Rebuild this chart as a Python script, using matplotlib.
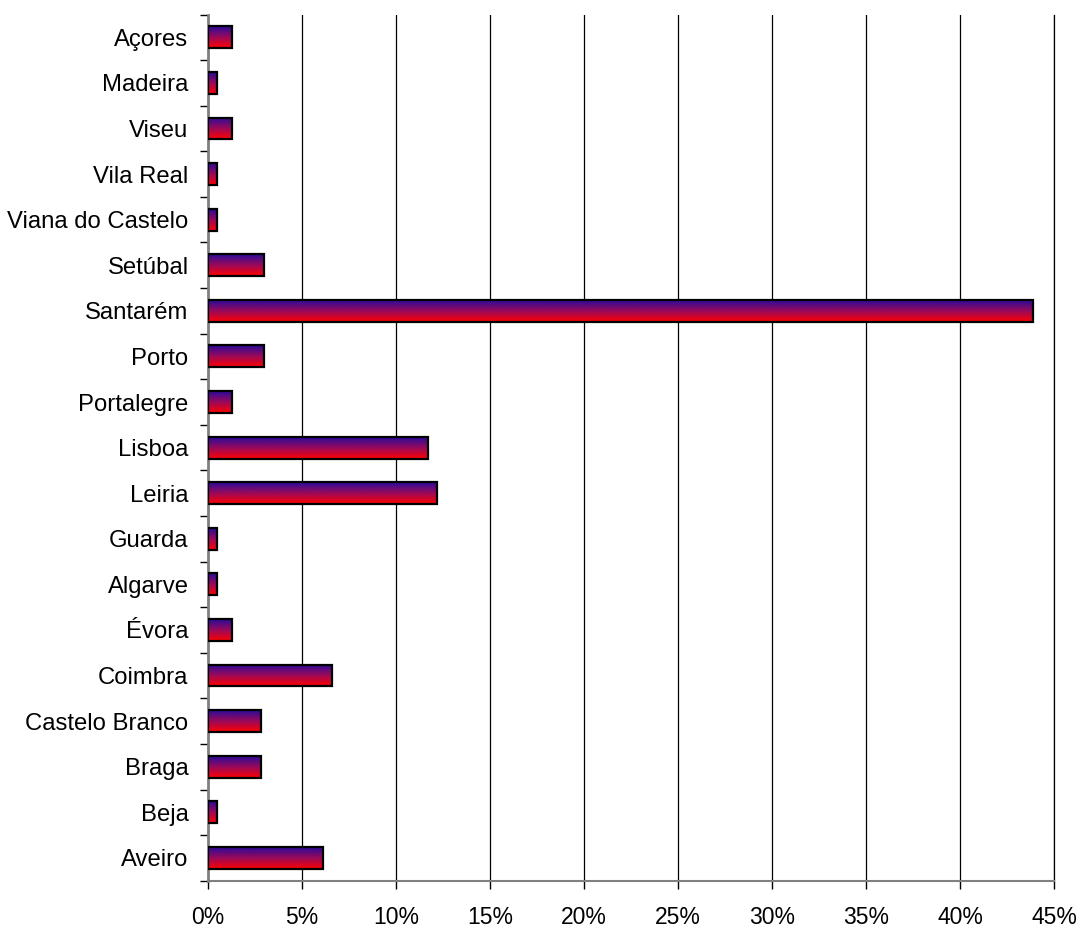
import numpy as np
import matplotlib
matplotlib.use("Agg")
import matplotlib.pyplot as plt
from matplotlib.colors import LinearSegmentedColormap
from matplotlib.patches import Rectangle
from matplotlib.ticker import FixedLocator, PercentFormatter

categories = ["Aveiro", "Beja", "Braga", "Castelo Branco", "Coimbra", "Évora",
              "Algarve", "Guarda", "Leiria", "Lisboa", "Portalegre", "Porto",
              "Santarém", "Setúbal", "Viana do Castelo", "Vila Real", "Viseu",
              "Madeira", "Açores"]
values = [6.1, 0.5, 2.8, 2.8, 6.6, 1.3, 0.5, 0.5, 12.2, 11.7, 1.3, 3.0,
          43.9, 3.0, 0.5, 0.5, 1.3, 0.5, 1.3]
xticks = [0, 5, 10, 15, 20, 25, 30, 35, 40, 45]

plt.rcParams['font.family'] = ['Liberation Sans', 'DejaVu Sans']

fig = plt.figure(figsize=(10.8, 9.27), dpi=100)
ax = fig.add_axes([208/1080, 1-880.7/927, (1054-208)/1080, (880.7-14.5)/927])

cmap = LinearSegmentedColormap.from_list("grad", ["#ff0000", "#9a0a5a", "#2a0a9a"])
grad = np.linspace(0, 1, 64).reshape(-1, 1)
h = 0.48
ypos = np.arange(len(categories))
for y, v in zip(ypos, values):
    ax.imshow(grad, cmap=cmap, origin='lower', aspect='auto',
              extent=(0, v, y - h/2, y + h/2), zorder=3,
              interpolation='bilinear', interpolation_stage='rgba')
    ax.add_patch(Rectangle((0, y - h/2), v, h, facecolor='none',
                           edgecolor='black', linewidth=1.6, zorder=4))

ax.set_xlim(0, 45)
ax.set_ylim(-0.5, len(categories) - 0.5)
ax.set_xticks(xticks)
ax.xaxis.set_major_formatter(PercentFormatter(decimals=0))
ax.set_yticks(ypos)
ax.set_yticklabels(categories)
ax.yaxis.set_minor_locator(FixedLocator(np.arange(-0.5, len(categories), 1.0)))
ax.tick_params(axis='y', which='major', length=0, pad=14, labelsize=17.2)
ax.tick_params(axis='y', which='minor', length=5.5, width=1, color='black')
ax.tick_params(axis='x', which='major', length=5.5, width=1, color='black',
               pad=12.5, labelsize=16.5)

ax.grid(axis='x', color='black', linewidth=0.9, zorder=1)
ax.set_axisbelow(True)
ax.spines['top'].set_visible(False)
ax.spines['right'].set_color('black')
ax.spines['right'].set_linewidth(0.9)
ax.spines['left'].set_color('#808080')
ax.spines['left'].set_linewidth(2)
ax.spines['bottom'].set_color('#808080')
ax.spines['bottom'].set_linewidth(1.5)

fig.savefig("out.png", dpi=100, facecolor='white')
